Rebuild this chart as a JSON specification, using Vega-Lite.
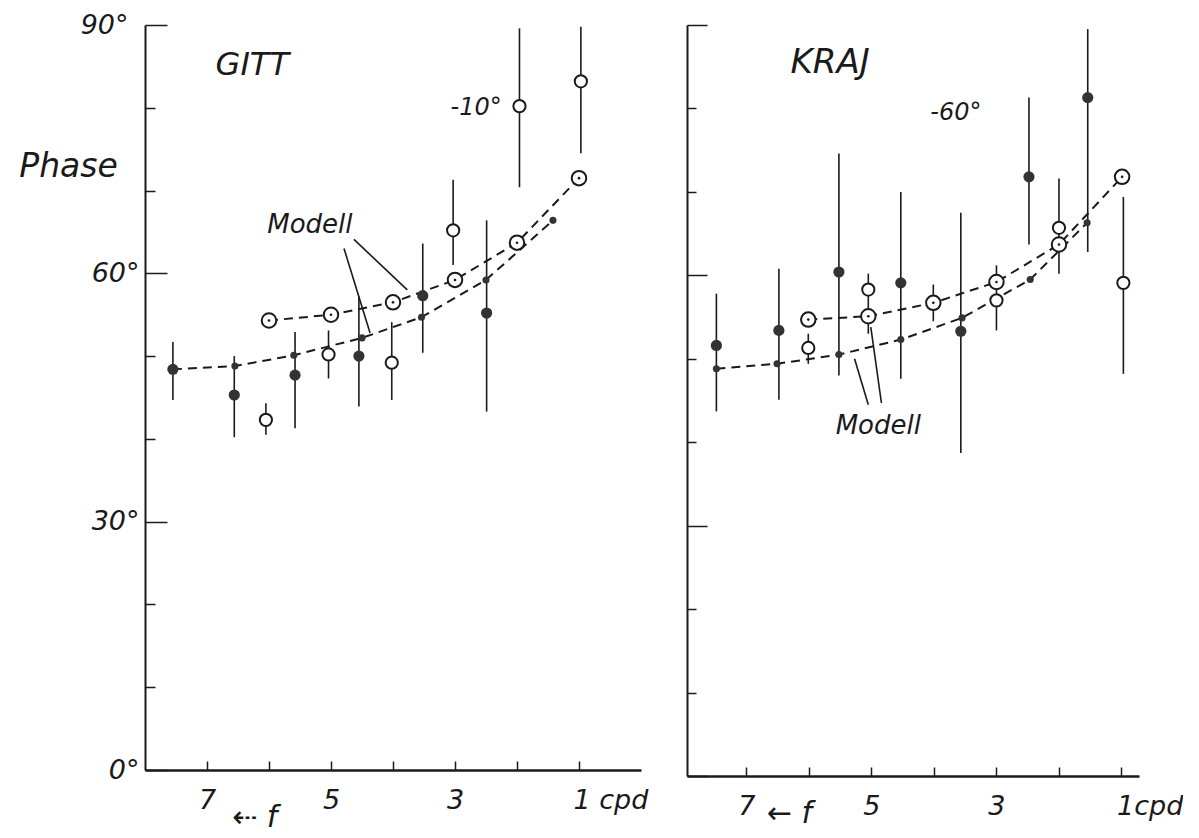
{
  "$schema": "https://vega.github.io/schema/vega-lite/v6.json",
  "background": "white",
  "padding": {"left": 18, "top": 11, "right": 0, "bottom": 0},
  "config": {
    "view": {"stroke": null},
    "axis": {"grid": false, "domainColor": "#1a1a1a", "tickColor": "#1a1a1a", "labelColor": "#1a1a1a", "labelFont": "DejaVu Sans", "labelFontStyle": "italic", "labelFontWeight": "normal", "labelFontSize": 27, "titleFont": "DejaVu Sans", "titleFontStyle": "italic", "titleFontWeight": "normal", "titleFontSize": 33, "titleColor": "#1a1a1a"},
    "text": {"font": "DejaVu Sans", "fontStyle": "italic", "color": "#1a1a1a"}
  },
  "datasets": {
    "points": [
      {"p": "G", "kind": "filled", "f": 7.55, "phase": 48.4, "lo": 44.7, "hi": 51.7},
      {"p": "G", "kind": "filled", "f": 6.56, "phase": 45.3, "lo": 40.2, "hi": 50.0},
      {"p": "G", "kind": "filled", "f": 5.58, "phase": 47.7, "lo": 41.3, "hi": 52.9},
      {"p": "G", "kind": "filled", "f": 4.55, "phase": 50.0, "lo": 43.9, "hi": 57.2},
      {"p": "G", "kind": "filled", "f": 3.52, "phase": 57.3, "lo": 50.4, "hi": 63.6},
      {"p": "G", "kind": "filled", "f": 2.49, "phase": 55.2, "lo": 43.3, "hi": 66.4},
      {"p": "G", "kind": "open", "f": 6.05, "phase": 42.3, "lo": 40.5, "hi": 44.3},
      {"p": "G", "kind": "open", "f": 5.04, "phase": 50.2, "lo": 47.3, "hi": 53.1},
      {"p": "G", "kind": "open", "f": 4.02, "phase": 49.2, "lo": 44.7, "hi": 54.1},
      {"p": "G", "kind": "open", "f": 3.03, "phase": 65.2, "lo": 61.0, "hi": 71.3},
      {"p": "G", "kind": "open", "f": 1.96, "phase": 80.2, "lo": 70.4, "hi": 89.6},
      {"p": "G", "kind": "open", "f": 0.97, "phase": 83.2, "lo": 74.5, "hi": 89.8},
      {"p": "K", "kind": "filled", "f": 7.48, "phase": 51.6, "lo": 43.7, "hi": 57.8},
      {"p": "K", "kind": "filled", "f": 6.48, "phase": 53.4, "lo": 45.1, "hi": 60.8},
      {"p": "K", "kind": "filled", "f": 5.52, "phase": 60.4, "lo": 48.0, "hi": 74.6},
      {"p": "K", "kind": "filled", "f": 4.53, "phase": 59.1, "lo": 47.6, "hi": 70.0},
      {"p": "K", "kind": "filled", "f": 3.57, "phase": 53.3, "lo": 38.7, "hi": 67.5},
      {"p": "K", "kind": "filled", "f": 2.48, "phase": 71.8, "lo": 63.7, "hi": 81.3},
      {"p": "K", "kind": "filled", "f": 1.54, "phase": 81.3, "lo": 62.8, "hi": 89.5},
      {"p": "K", "kind": "open", "f": 6.01, "phase": 51.3, "lo": 49.4, "hi": 53.0},
      {"p": "K", "kind": "open", "f": 5.05, "phase": 58.3, "lo": 53.0, "hi": 60.2},
      {"p": "K", "kind": "open", "f": 4.01, "phase": 56.7, "lo": 54.5, "hi": 58.9},
      {"p": "K", "kind": "open", "f": 3.0, "phase": 57.0, "lo": 53.4, "hi": 61.2},
      {"p": "K", "kind": "open", "f": 2.0, "phase": 65.7, "lo": 60.2, "hi": 71.6},
      {"p": "K", "kind": "open", "f": 0.97, "phase": 59.1, "lo": 48.2, "hi": 69.4}
    ],
    "model": [
      {"p": "G", "curve": "upper", "f": 6.0, "phase": 54.3},
      {"p": "G", "curve": "upper", "f": 5.0, "phase": 55.0},
      {"p": "G", "curve": "upper", "f": 4.0, "phase": 56.5},
      {"p": "G", "curve": "upper", "f": 3.0, "phase": 59.2},
      {"p": "G", "curve": "upper", "f": 2.0, "phase": 63.7},
      {"p": "G", "curve": "upper", "f": 1.0, "phase": 71.5},
      {"p": "G", "curve": "lower", "f": 7.55, "phase": 48.4},
      {"p": "G", "curve": "lower", "f": 6.55, "phase": 48.8},
      {"p": "G", "curve": "lower", "f": 5.6, "phase": 50.1},
      {"p": "G", "curve": "lower", "f": 4.5, "phase": 52.2},
      {"p": "G", "curve": "lower", "f": 3.54, "phase": 54.7},
      {"p": "G", "curve": "lower", "f": 2.5, "phase": 59.2},
      {"p": "G", "curve": "lower", "f": 1.42, "phase": 66.4},
      {"p": "K", "curve": "upper", "f": 6.01, "phase": 54.7},
      {"p": "K", "curve": "upper", "f": 5.05, "phase": 55.1},
      {"p": "K", "curve": "upper", "f": 4.01, "phase": 56.7},
      {"p": "K", "curve": "upper", "f": 3.0, "phase": 59.2},
      {"p": "K", "curve": "upper", "f": 2.0, "phase": 63.7},
      {"p": "K", "curve": "upper", "f": 0.99, "phase": 71.8},
      {"p": "K", "curve": "lower", "f": 7.48, "phase": 48.8},
      {"p": "K", "curve": "lower", "f": 6.51, "phase": 49.4},
      {"p": "K", "curve": "lower", "f": 5.52, "phase": 50.5},
      {"p": "K", "curve": "lower", "f": 4.53, "phase": 52.3},
      {"p": "K", "curve": "lower", "f": 3.55, "phase": 54.9},
      {"p": "K", "curve": "lower", "f": 2.46, "phase": 59.5},
      {"p": "K", "curve": "lower", "f": 1.55, "phase": 66.3}
    ],
    "leaders": [
      {"p": "G", "f": 4.79, "phase": 63.0, "f2": 4.37, "phase2": 52.8},
      {"p": "G", "f": 4.63, "phase": 64.1, "f2": 3.77, "phase2": 58.0},
      {"p": "K", "f": 5.27, "phase": 50.0, "f2": 5.05, "phase2": 44.5},
      {"p": "K", "f": 5.01, "phase": 53.8, "f2": 4.84, "phase2": 44.7}
    ],
    "notes": [
      {"p": "G", "kind": "panel", "text": "GITT", "f": 6.27, "phase": 85.2},
      {"p": "G", "kind": "angle", "text": "-10°", "f": 2.66, "phase": 80.0},
      {"p": "G", "kind": "modell", "text": "Modell", "f": 5.34, "phase": 65.8},
      {"p": "G", "kind": "arrow", "text": "⇠ f", "f": 6.23, "phase": -5.8},
      {"p": "K", "kind": "panel", "text": "KRAJ", "f": 5.66, "phase": 85.5},
      {"p": "K", "kind": "angle", "text": "-60°", "f": 3.65, "phase": 79.4},
      {"p": "K", "kind": "modell", "text": "Modell", "f": 4.89, "phase": 41.9},
      {"p": "K", "kind": "arrow", "text": "← f", "f": 6.31, "phase": -4.5}
    ]
  },
  "spacing": 46,
  "bounds": "flush",
  "hconcat": [
    {
      "width": 496,
      "height": 745,
      "encoding": {
        "x": {"field": "f", "type": "quantitative", "scale": {"domain": [0, 8], "reverse": true, "nice": false, "zero": false},
          "axis": {"values": [1, 2, 3, 4, 5, 6, 7], "title": null, "domainWidth": 2.5, "tickWidth": 1.5, "tickSize": -9, "labelPadding": 26, "labelOverlap": false, "labelFlush": false,
            "labelExpr": "datum.value == 1 ? '1 cpd' : (datum.value % 2 == 1 ? datum.label : '')",
            "labelAlign": {"condition": {"test": "datum.value == 1", "value": "left"}, "value": "center"},
            "labelOffset": {"condition": {"test": "datum.value == 1", "value": -6}, "value": 0}}},
        "y": {"field": "phase", "type": "quantitative", "scale": {"domain": [0, 90], "nice": false, "zero": false},
          "axis": {"values": [0, 10, 20, 30, 40, 50, 60, 70, 80, 90], "title": "Phase", "titleAngle": 0, "titleAlign": "center", "titleBaseline": "middle", "titleX": -77, "titleY": 141,
            "domainWidth": 2, "tickWidth": 1.5,
            "tickSize": {"condition": {"test": "datum.value % 30 == 0", "value": -22}, "value": -10},
            "labelPadding": {"condition": {"test": "datum.value == 90", "value": 39}, "value": 28},
            "labelOverlap": false,
            "labelExpr": "datum.value % 30 == 0 ? datum.value + '°' : ''"}}
      },
      "layer": [
        {"data": {"name": "points"}, "transform": [{"filter": "datum.p == 'G'"}],
          "mark": {"type": "rule", "strokeWidth": 1.6, "color": "#1a1a1a"},
          "encoding": {"y": {"field": "lo", "type": "quantitative", "scale": {"domain": [0, 90], "nice": false, "zero": false},
            "axis": {"values": [0, 10, 20, 30, 40, 50, 60, 70, 80, 90], "title": "Phase", "titleAngle": 0, "titleAlign": "center", "titleBaseline": "middle", "titleX": -77, "titleY": 141,
              "domainWidth": 2, "tickWidth": 1.5,
              "tickSize": {"condition": {"test": "datum.value % 30 == 0", "value": -22}, "value": -10},
              "labelPadding": {"condition": {"test": "datum.value == 90", "value": 39}, "value": 28},
              "labelOverlap": false,
              "labelExpr": "datum.value % 30 == 0 ? datum.value + '°' : ''"}}, "y2": {"field": "hi"}}},
        {"data": {"name": "model"}, "transform": [{"filter": "datum.p == 'G'"}],
          "mark": {"type": "line", "strokeDash": [9, 6], "strokeWidth": 2, "color": "#1a1a1a"},
          "encoding": {"detail": {"field": "curve"}}},
        {"data": {"name": "leaders"}, "transform": [{"filter": "datum.p == 'G'"}],
          "mark": {"type": "rule", "strokeWidth": 1.6, "color": "#1a1a1a"},
          "encoding": {"x2": {"field": "f2"}, "y2": {"field": "phase2"}}},
        {"data": {"name": "points"}, "transform": [{"filter": "datum.p == 'G' && datum.kind == 'filled'"}],
          "mark": {"type": "circle", "size": 125, "color": "#333333", "opacity": 1}},
        {"data": {"name": "points"}, "transform": [{"filter": "datum.p == 'G' && datum.kind == 'open'"}],
          "mark": {"type": "point", "shape": "circle", "fill": "white", "fillOpacity": 1, "stroke": "#1a1a1a", "strokeWidth": 2, "size": 150, "opacity": 1}},
        {"data": {"name": "model"}, "transform": [{"filter": "datum.p == 'G' && datum.curve == 'lower'"}],
          "mark": {"type": "circle", "size": 50, "color": "#333333", "opacity": 1}},
        {"data": {"name": "model"}, "transform": [{"filter": "datum.p == 'G' && datum.curve == 'upper'"}],
          "mark": {"type": "point", "shape": "circle", "fill": "white", "fillOpacity": 1, "stroke": "#1a1a1a", "strokeWidth": 2, "size": 210, "opacity": 1}},
        {"data": {"name": "model"}, "transform": [{"filter": "datum.p == 'G' && datum.curve == 'upper'"}],
          "mark": {"type": "circle", "size": 7, "color": "#1a1a1a", "opacity": 1}},
        {"data": {"name": "notes"}, "transform": [{"filter": "datum.p == 'G' && datum.kind == 'panel'"}],
          "mark": {"type": "text", "fontSize": 32, "align": "center", "baseline": "middle"},
          "encoding": {"text": {"field": "text"}}},
        {"data": {"name": "notes"}, "transform": [{"filter": "datum.p == 'G' && datum.kind == 'angle'"}],
          "mark": {"type": "text", "fontSize": 24, "align": "center", "baseline": "middle"},
          "encoding": {"text": {"field": "text"}}},
        {"data": {"name": "notes"}, "transform": [{"filter": "datum.p == 'G' && datum.kind == 'modell'"}],
          "mark": {"type": "text", "fontSize": 26, "align": "center", "baseline": "middle"},
          "encoding": {"text": {"field": "text"}}},
        {"data": {"name": "notes"}, "transform": [{"filter": "datum.p == 'G' && datum.kind == 'arrow'"}],
          "mark": {"type": "text", "fontSize": 30, "align": "center", "baseline": "middle"},
          "encoding": {"text": {"field": "text"}}}
      ]
    },
    {
      "width": 452,
      "height": 751,
      "encoding": {
        "x": {"field": "f", "type": "quantitative", "scale": {"domain": [0.72, 7.95], "reverse": true, "nice": false, "zero": false},
          "axis": {"values": [1, 2, 3, 4, 5, 6, 7], "title": null, "domainWidth": 2.5, "tickWidth": 1.5, "tickSize": -9, "labelPadding": 26, "labelOverlap": false, "labelFlush": false,
            "labelExpr": "datum.value == 1 ? '1cpd' : (datum.value % 2 == 1 ? datum.label : '')",
            "labelAlign": {"condition": {"test": "datum.value == 1", "value": "left"}, "value": "center"},
            "labelOffset": {"condition": {"test": "datum.value == 1", "value": -5}, "value": 0}}},
        "y": {"field": "phase", "type": "quantitative", "scale": {"domain": [0, 90], "nice": false, "zero": false},
          "axis": {"values": [0, 10, 20, 30, 40, 50, 60, 70, 80, 90], "title": null, "labels": false,
            "domainWidth": 2, "tickWidth": 1.5,
            "tickSize": {"condition": {"test": "datum.value % 30 == 0", "value": -20}, "value": -9}}}
      },
      "layer": [
        {"data": {"name": "points"}, "transform": [{"filter": "datum.p == 'K'"}],
          "mark": {"type": "rule", "strokeWidth": 1.6, "color": "#1a1a1a"},
          "encoding": {"y": {"field": "lo", "type": "quantitative", "scale": {"domain": [0, 90], "nice": false, "zero": false},
            "axis": {"values": [0, 10, 20, 30, 40, 50, 60, 70, 80, 90], "title": null, "labels": false,
              "domainWidth": 2, "tickWidth": 1.5,
              "tickSize": {"condition": {"test": "datum.value % 30 == 0", "value": -20}, "value": -9}}}, "y2": {"field": "hi"}}},
        {"data": {"name": "model"}, "transform": [{"filter": "datum.p == 'K'"}],
          "mark": {"type": "line", "strokeDash": [9, 6], "strokeWidth": 2, "color": "#1a1a1a"},
          "encoding": {"detail": {"field": "curve"}}},
        {"data": {"name": "leaders"}, "transform": [{"filter": "datum.p == 'K'"}],
          "mark": {"type": "rule", "strokeWidth": 1.6, "color": "#1a1a1a"},
          "encoding": {"x2": {"field": "f2"}, "y2": {"field": "phase2"}}},
        {"data": {"name": "points"}, "transform": [{"filter": "datum.p == 'K' && datum.kind == 'filled'"}],
          "mark": {"type": "circle", "size": 125, "color": "#333333", "opacity": 1}},
        {"data": {"name": "points"}, "transform": [{"filter": "datum.p == 'K' && datum.kind == 'open'"}],
          "mark": {"type": "point", "shape": "circle", "fill": "white", "fillOpacity": 1, "stroke": "#1a1a1a", "strokeWidth": 2, "size": 150, "opacity": 1}},
        {"data": {"name": "model"}, "transform": [{"filter": "datum.p == 'K' && datum.curve == 'lower'"}],
          "mark": {"type": "circle", "size": 50, "color": "#333333", "opacity": 1}},
        {"data": {"name": "model"}, "transform": [{"filter": "datum.p == 'K' && datum.curve == 'upper'"}],
          "mark": {"type": "point", "shape": "circle", "fill": "white", "fillOpacity": 1, "stroke": "#1a1a1a", "strokeWidth": 2, "size": 210, "opacity": 1}},
        {"data": {"name": "model"}, "transform": [{"filter": "datum.p == 'K' && datum.curve == 'upper'"}],
          "mark": {"type": "circle", "size": 7, "color": "#1a1a1a", "opacity": 1}},
        {"data": {"name": "notes"}, "transform": [{"filter": "datum.p == 'K' && datum.kind == 'panel'"}],
          "mark": {"type": "text", "fontSize": 34, "align": "center", "baseline": "middle"},
          "encoding": {"text": {"field": "text"}}},
        {"data": {"name": "notes"}, "transform": [{"filter": "datum.p == 'K' && datum.kind == 'angle'"}],
          "mark": {"type": "text", "fontSize": 24, "align": "center", "baseline": "middle"},
          "encoding": {"text": {"field": "text"}}},
        {"data": {"name": "notes"}, "transform": [{"filter": "datum.p == 'K' && datum.kind == 'modell'"}],
          "mark": {"type": "text", "fontSize": 26, "align": "center", "baseline": "middle"},
          "encoding": {"text": {"field": "text"}}},
        {"data": {"name": "notes"}, "transform": [{"filter": "datum.p == 'K' && datum.kind == 'arrow'"}],
          "mark": {"type": "text", "fontSize": 30, "align": "center", "baseline": "middle"},
          "encoding": {"text": {"field": "text"}}}
      ]
    }
  ]
}
